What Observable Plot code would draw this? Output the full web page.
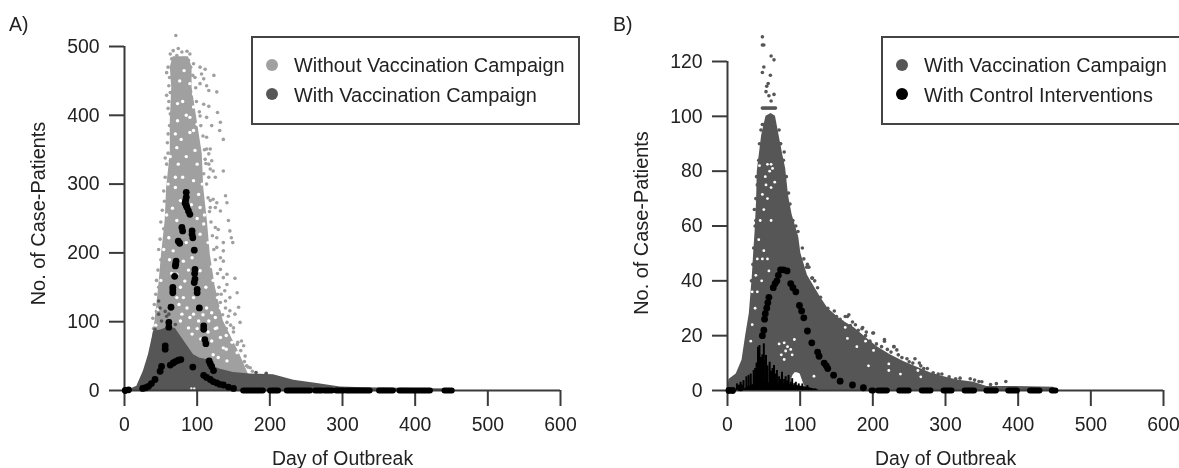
<!DOCTYPE html>
<html><head><meta charset="utf-8">
<script src="https://cdn.jsdelivr.net/npm/d3@7"></script>
<script src="https://cdn.jsdelivr.net/npm/@observablehq/plot@0.6"></script>
<style>
html,body{margin:0;padding:0;background:#fff;overflow:hidden}
#page{position:relative;width:1179px;height:468px;font-family:"Liberation Sans",Arial,sans-serif;color:#222;filter:blur(.45px)}
.panel{position:absolute;top:0}
.tag{position:absolute;top:13px;font-size:19.5px}
.legend{position:absolute;top:36px;height:85px;border:2px solid #444;background:#fff;box-sizing:content-box;font-size:19.9px;line-height:29px}
.row{position:absolute;white-space:nowrap}
.key{position:absolute;width:12px;height:12px;border-radius:50%}
</style></head><body><div id="page"></div>
<script>
const dayTicks=[0,100,200,300,400,500,600];
const aTicks=[0,100,200,300,400,500];
const bTicks=[0,20,40,60,80,100,120];
const colLight="#a0a0a0",colDark="#565656",colBlack="#000";

// Panel A: dense band without vaccination  [cases, first day, last day]
const aBand=[[0,25,175],[25,30,170],[52,35,159],[101,42,136],[150,47,125],[198,51,118],[247,56,114],[295,58,109],[344,63,107],[392,63,100],[440,65,93],[470,63,93],[485,67,88]];
const aLoose=[[70.6,516],[63,489],[67,494],[74,497],[79,492],[86,493],[90,489],[65,482],[72,487],[82,483],[88,480],[58,462],[91,470],[104,470],[111,467],[106,460],[123,458],[109,453],[94,458],[104,446],[113,443],[116,436],[127,434],[61,443],[63,433],[58,429],[109,416],[116,413],[128,404],[104,399],[113,397],[132,390],[120,385],[131,378],[113,368],[136,365],[63,402],[60,373],[56,338],[63,334],[58,329],[113,351],[118,351],[116,344],[111,336],[120,334],[116,329],[118,322],[122,319],[136,319],[109,315],[116,310],[125,310],[139,283],[118,276],[122,278],[127,273],[118,266],[125,266],[141,273],[132,261],[143,247],[125,237],[129,234],[145,232],[127,222],[147,222],[149,215],[136,215],[127,208],[136,203],[132,193],[136,188],[132,176],[141,169],[136,164],[152,163],[141,154],[155,142],[145,135],[139,130],[132,128],[157,121],[145,116],[152,111],[159,99],[141,99],[150,91],[161,72],[164,65],[155,67],[143,77],[148,60],[166,50],[173,33]];
const aFringe=[[60,470],[62,455],[61,420],[60,410],[62,385],[59,360],[60,345],[56,310],[54,290],[55,275],[52,262],[50,245],[54,235],[49,220],[47,205],[50,190],[46,175],[44,160],[47,150],[43,140],[41,125],[44,115],[39,105],[40,90],[95,475],[97,455],[98,440],[99,420],[103,405],[105,385],[108,370],[110,350],[112,330],[113,300],[115,280],[117,260],[119,245],[121,225],[123,205],[125,190],[128,170],[130,150],[133,140],[139,120],[143,108],[146,95],[150,85],[156,70],[160,58],[165,42],[170,34],[176,28],[135,110],[130,100],[140,90],[145,70],[152,60],[135,85],[125,130],[128,140],[138,145],[140,75],[158,45],[150,45],[168,36]];
const aGaps=[[81,135],[86,120],[79,111],[90,106],[77,101],[95,111],[102,101],[113,120],[120,113],[116,101],[125,106],[127,91],[132,77],[136,62],[120,72],[122,52],[129,48],[141,43],[88,91],[93,82],[72,135],[77,150],[95,135],[83,159],[72,169],[104,174],[81,188],[93,193],[104,227],[109,242],[67,203],[61,222],[72,247],[104,266],[77,276],[70,295],[95,305],[102,285],[70,310],[74,329],[100,329],[97,349],[72,353],[70,373],[95,378],[73,392],[100,387],[90,397],[73,417],[95,412],[90,446],[95,431],[60,300],[63,340],[58,255],[54,205],[50,160],[46,118],[43,95],[107,300],[110,255],[115,215],[120,180],[122,160],[128,135],[132,120],[125,90],[140,80],[148,70],[155,55],[140,60],[112,150],[108,110],[100,90],[105,75],[115,85],[65,170],[68,140],[75,125],[62,190],[66,265],[100,250],[88,175],[85,215],[92,270],[80,310],[85,340],[78,365],[90,375],[80,420],[85,400],[76,450],[82,465]];
// Panel A: with vaccination
const aVaxTop=[[0,0],[10,3],[17,6],[26,28],[33,52],[38,76],[40,86],[50,88],[60,92],[70,90],[80,75],[95,52],[104,47],[113,45],[122,35],[132,31],[150,26],[173,24],[205,23],[233,15],[265,10],[297,5],[330,4],[400,3],[449,2],[453,0]];
const aVaxLoose=[[47,130],[49,120],[56,115],[61,111],[47,111],[51,101],[58,108],[63,101],[42,89],[181,26],[195,25],[70,96],[60,98]];
const aVaxGaps=[[92,3],[96,3]];
// Panel A: black dashes
const aBlack=[[85,288],[85,281],[84,276],[83.5,272],[85,269],[86,266],[88,261],[90,256],[79,237],[80,232],[93,232],[93,227],[94,222],[74,217],[76,214],[96,204],[71,188],[70.5,184],[70,181],[97,176],[96.5,170],[69,166],[97,162],[96,157],[66.5,150],[66.5,146],[66.5,142],[100,147],[100,142],[64,121],[103,120],[61,99],[61,92],[109,94],[109,89],[110.5,74],[112,68],[56,65],[56,60],[116.5,43],[118,39],[120,35],[122.5,29],[1,0],[5.5,1],[25,3],[29,4],[33,6],[37,10],[42,16],[49,28],[51,35],[63,37],[67,40],[70,42],[74,44],[77.5,45],[94,34],[109,22],[113,19],[118,16],[122,13],[127,11],[131,9],[136,8],[143,5],[150,3]];
const aDashFrom=[164,201,224,263,276,292,306,351,379,441];
const aDashTo=[191,212,256,272,286,302,338,370,421,451];

// Panel B: with vaccination
const bVaxTop=[[0,0],[2,4],[12,6],[20,11],[25,20],[30,28],[34,41],[36,50],[38,58],[40,69],[41,80],[47,93],[53,100],[60,101],[66,100],[71,93],[76,86],[80,81],[84,71],[89,64],[98,56],[101,50],[110,42],[119,38],[128,34],[138,30],[155,26],[174,23],[192,19],[206,16],[224,13],[243,10.5],[261,8.5],[279,6.5],[298,5],[316,3.8],[339,3],[357,1.5],[385,1.5],[449,1.2],[453,0]];
const bVaxLoose=[[48,129],[48,126],[50,126],[60,122],[64,120.6],[50,118],[48,116],[59,115],[56,112],[54,111],[53,109],[57,107.5],[64,108],[60,105.6],[48,103],[50,103],[52,103],[54,103],[56,103],[58,103],[60,103],[62,103],[64,103],[66,103],[73,90],[78,87],[44,81],[39,62],[44,68.5],[41,75],[47,84],[48,97],[112,45],[109,45],[117,41],[124,37.5],[128,34],[138,30],[147,29],[165,27],[158,25],[186,23],[200,21],[216,18],[229,16],[264,10],[167,27.6],[162,27],[169,23.7],[185,22.5],[191,21.3],[201,21],[216,18.6],[229,16],[233,14.8],[258,11.6],[247,11.6],[266,9],[295,6],[314,4.3],[334,4.3],[383,3.3],[346,3.3],[362,2.2]];
const bFringe=[[150,27],[155,26],[172,25],[176,24],[180,22],[190,20],[196,18],[205,17],[212,16],[220,15],[225,14],[235,13],[240,12],[250,10.5],[255,10],[270,8],[275,8],[283,6.5],[290,6],[305,5],[320,4.5],[340,3.8],[350,3.2],[370,2.5],[33,40],[35,46],[36,52],[38,60],[37,66],[39,70],[40,78],[43,84],[44,90],[46,95],[49,97],[71,95],[73,90],[77,84],[81,78],[84,72],[86,68],[90,62],[94,60],[97,58],[103,52],[105,48],[110,46],[116,41],[120,40]];
const bVaxGaps=[[71,17],[78,17.4],[82.6,16],[92,18.6],[80,14.4],[87,15],[74,13],[78,11.3],[89,13],[119,5.2],[55,82.5],[60,82.5],[62,81],[44,82],[53,75],[60,74],[48,71.5],[55,70],[50,51],[41,48],[48,48],[55,48],[39,42],[57,43.6],[34,36],[41,36],[32,18],[194,9],[201,14.6],[165,19],[178,16],[222,9.7],[222,7.3],[238,6],[262,7.3],[266,5],[162,23],[190,18],[52,78],[58,80],[65,76],[50,66],[45,62],[60,62],[43,55],[47,40],[38,30],[34,24]];
const bPatch=[[88,0.5,4],[90,0.5,5.5],[93,0.5,6.5],[96,0.5,6.5],[100,0.5,6],[104,0.5,3],[108,0.5,0.6]];
const bBlack=[[48,20],[50,22],[51,26],[52,28],[54,30],[55.5,32],[57,34],[63,37.5],[65.5,39],[68,40],[70,42],[73,44],[77,44],[82,43.6],[87,39],[90,37.5],[94,36],[99,31],[102,29],[105,26.5],[110,21.7],[116,17.4],[124,14],[126,12.5],[133,10],[136,9],[138,8],[146,5.6],[155,3.4],[172,2],[187,1],[2,0],[7,0],[18,1]];
const bDashFrom=[199,208,237,268,298,327,357,387,417,447];
const bDashTo=[201,220,250,280,309,340,370,399,430,452];
// Panel B: control interventions, daily counts
const ctrlDay=[4,13,18,22,26,29,32,36,38,40,42,44,46,48,50,52,53,55,58,60,62,64,66,68,71,73,75,78,80,82,84,87,89,92,94,98,103,110,121];
const ctrlCount=[.6,2.4,3,3.6,5,5.5,6,7.3,8,10,15.8,16.4,12,13,17,11,12.8,9,10.3,7,8,9.1,6,7.3,5,4,6.7,4,5,3.5,5.5,3,4.3,2.5,3,2.4,2.4,1.8,.6];
const ctrlFloor=[[20,0],[30,1.6],[45,3],[70,2.6],[95,1.8],[110,1.2],[125,.2]];

const font='"Liberation Sans",Arial,sans-serif';
const fs=19.4,ink="#3a3a3a";
function base(o){return {height:468,marginLeft:124,marginBottom:78,
  style:{fontFamily:font,fontSize:fs+"px",color:"#222",background:"transparent"},
  x:{domain:[0,600]},...o};}
const axisMarks=(yTicks,yTop,shift)=>[
  Plot.ruleY([0],{x1:0,x2:600,stroke:ink,strokeWidth:2}),
  Plot.ruleX([0],{y1:0,y2:yTop,stroke:ink,strokeWidth:2}),
  Plot.axisX({ticks:dayTicks,tickSize:16,tickPadding:11,stroke:ink,strokeWidth:2,label:"Day of Outbreak",labelAnchor:"center",labelArrow:false,labelOffset:74,fontSize:fs}),
  Plot.axisY({ticks:yTicks,tickSize:15,tickPadding:10,stroke:ink,strokeWidth:2,label:null,fontSize:fs}),
  Plot.text(["No. of Case-Patients"],{frameAnchor:"left",textAnchor:"middle",rotate:-90,dx:-86,dy:shift,fontSize:19.9,fill:"#222"})
];
const X=d=>d[0],Y=d=>d[1];
const plotA=Plot.plot(base({width:590,marginTop:46,marginRight:30,y:{domain:[0,500]},marks:[
  Plot.areaX(aBand,{y:d=>d[0],x1:d=>d[1],x2:d=>d[2],fill:colLight}),
  Plot.dot(aLoose,{x:X,y:Y,r:1.8,fill:colLight}),
  Plot.dot(aFringe,{x:X,y:Y,r:1.8,fill:colLight}),
  Plot.dot(aGaps,{x:X,y:Y,r:1.7,fill:"#fff"}),
  Plot.areaY(aVaxTop,{x:X,y:Y,fill:colDark}),
  Plot.dot(aVaxLoose,{x:X,y:Y,r:1.8,fill:colDark}),
  Plot.dot(aVaxGaps,{x:X,y:Y,r:1.2,fill:"#eee"}),
  ...axisMarks(aTicks,500,-5),
  Plot.dot(aBlack,{x:X,y:Y,r:3.4,fill:colBlack}),
  Plot.ruleY(aDashFrom.map((d,i)=>i),{x1:i=>aDashFrom[i],x2:i=>aDashTo[i],y:0,stroke:colBlack,strokeWidth:6,strokeLinecap:"round"})
]}));
const plotB=Plot.plot(base({width:576,marginTop:61,marginRight:16,y:{domain:[0,120]},marks:[
  Plot.areaY(bVaxTop,{x:X,y:Y,fill:colDark}),
  Plot.dot(bVaxLoose,{x:X,y:Y,r:1.8,fill:colDark}),
  Plot.dot(bFringe,{x:X,y:Y,r:1.8,fill:colDark}),
  Plot.dot(bVaxGaps,{x:X,y:Y,r:1.4,fill:"#fff"}),
  Plot.areaY(bPatch,{x:X,y1:d=>d[1],y2:d=>d[2],fill:"#fff"}),
  ...axisMarks(bTicks,120,-3),
  Plot.areaY(ctrlFloor,{x:X,y:Y,fill:colBlack}),
  Plot.ruleX(ctrlDay.map((d,i)=>i),{x:i=>ctrlDay[i],y1:0,y2:i=>ctrlCount[i],stroke:colBlack,strokeWidth:2}),
  Plot.dot(bBlack,{x:X,y:Y,r:3.4,fill:colBlack}),
  Plot.ruleY(bDashFrom.map((d,i)=>i),{x1:i=>bDashFrom[i],x2:i=>bDashTo[i],y:0,stroke:colBlack,strokeWidth:6,strokeLinecap:"round"})
]}));
const page=document.getElementById("page");
function panel(node,left){const d=document.createElement("div");d.className="panel";d.style.left=left+"px";d.appendChild(node);page.appendChild(d);}
panel(plotA,0);panel(plotB,603);
function tag(t,l){const d=document.createElement("div");d.className="tag";d.style.left=l+"px";d.textContent=t;page.appendChild(d);}
tag("A)",9);tag("B)",613);
function legend(left,width,rows){
  const b=document.createElement("div");b.className="legend";b.style.left=left+"px";b.style.width=width+"px";
  rows.forEach((r,i)=>{
    const k=document.createElement("div");k.className="key";k.style.background=r[1];k.style.left="13px";k.style.top=(21+i*29)+"px";b.appendChild(k);
    const t=document.createElement("div");t.className="row";t.textContent=r[0];t.style.left="41px";t.style.top=(13+i*30)+"px";b.appendChild(t);
  });
  page.appendChild(b);
}
legend(251,325,[["Without Vaccination Campaign",colLight],["With Vaccination Campaign",colDark]]);
legend(881,320,[["With Vaccination Campaign",colDark],["With Control Interventions",colBlack]]);
</script></body></html>
